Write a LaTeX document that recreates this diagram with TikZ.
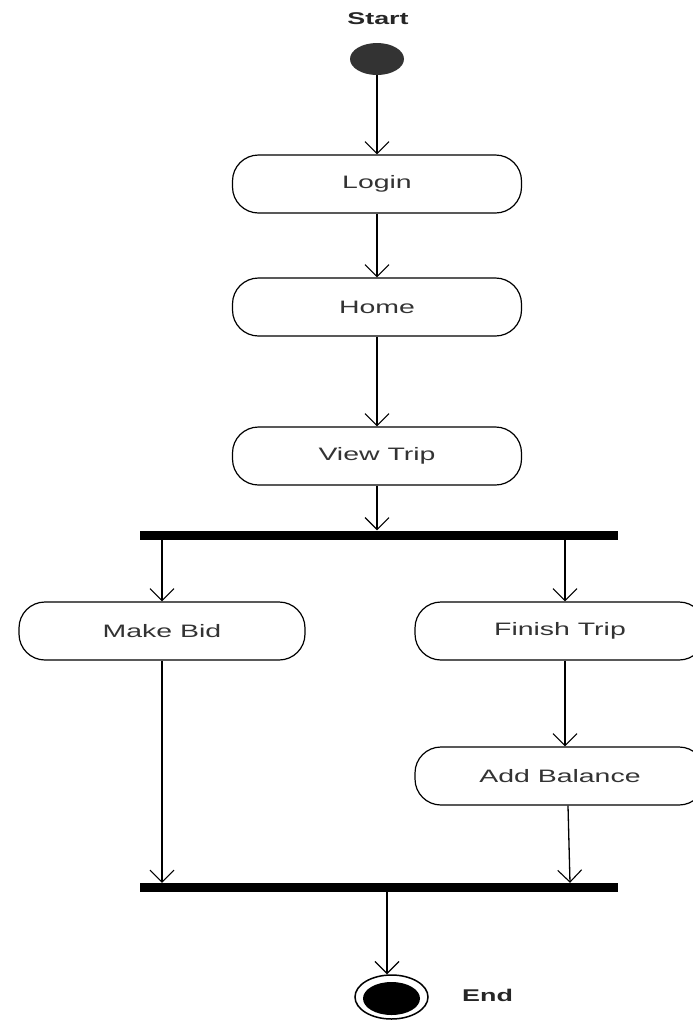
\documentclass[tikz,border=0pt]{standalone}
\usepackage{fontspec}
\setmainfont{Liberation Sans}
\usepackage{graphicx}
\usetikzlibrary{arrows.meta,shapes.geometric}
\definecolor{labelgray}{HTML}{333333}
\definecolor{startgray}{HTML}{333333}
% labels are set wide, stretched horizontally
\newcommand\widetext[1]{\scalebox{1.58}[1]{#1}}

\begin{document}
\begin{tikzpicture}[x=1pt,y=-1pt,
  act/.style={draw=black, line width=1.2pt, rounded corners=26pt,
    minimum width=289pt, minimum height=58pt, inner sep=0pt,
    font=\fontsize{18}{20}\selectfont, text=labelgray},
  bar/.style={fill=black, minimum width=478pt, minimum height=9pt, inner sep=0pt},
  flow/.style={draw=black, line width=1.3pt,
    -{Straight Barb[length=12pt,width=24pt,line width=1.1pt]}},
  caption/.style={font=\fontsize{17}{19}\selectfont\bfseries, text=black!85, inner sep=0pt},
]
\useasboundingbox (0,0) rectangle (693,1021);

% start
\node[caption] (starttxt) at (378,19) {\widetext{Start}};
\node[ellipse, fill=startgray, minimum width=54pt, minimum height=32pt, inner sep=0pt] (start) at (377,59) {};

% activities
\node[act] (login) at (377,184) {\widetext{Login}};
\node[act] (home)  at (377,307) {\widetext{Home}};
\node[act] (view)  at (377,456) {\widetext{View Trip}};

% fork bar
\node[bar] (fork) at (379,535) {};

\node[act, minimum width=286pt] (bid) at (162,631) {\widetext{Make Bid}};
\node[act, minimum width=290pt] (finish) at (560,631) {\widetext{Finish Trip}};
\node[act, minimum width=290pt] (balance) at (560,776) {\widetext{Add Balance}};

% join bar
\node[bar] (join) at (379,887.5) {};

% end
\node[ellipse, draw=black, line width=1.5pt, minimum width=73pt, minimum height=44pt, inner sep=0pt] (endo) at (391.5,997) {};
\node[ellipse, fill=black, minimum width=57pt, minimum height=33pt, inner sep=0pt] (endi) at (391.5,998.5) {};
\node[caption, anchor=west] (endtxt) at (462,995) {\widetext{End}};

\coordinate (jx) at (387,0);
\coordinate (rx) at (565,0);

% flows
\draw[flow] (start.south) -- (login.north);
\draw[flow] (login.south) -- (home.north);
\draw[flow] (home.south) -- (view.north);
\draw[flow] (view.south) -- (view.south |- fork.north);
\draw[flow] (fork.south -| bid.north) -- (bid.north);
\draw[flow] (fork.south -| rx) -- (rx |- finish.north);
\draw[flow] (rx |- finish.south) -- (rx |- balance.north);
\draw[flow] (bid.south) -- (bid.south |- join.north);
\draw[flow] ([xshift=8pt]balance.south) -- ([xshift=10pt]balance.south |- join.north);
\draw[flow] (join.south -| jx) -- (jx |- endo.north);
\end{tikzpicture}
\end{document}
